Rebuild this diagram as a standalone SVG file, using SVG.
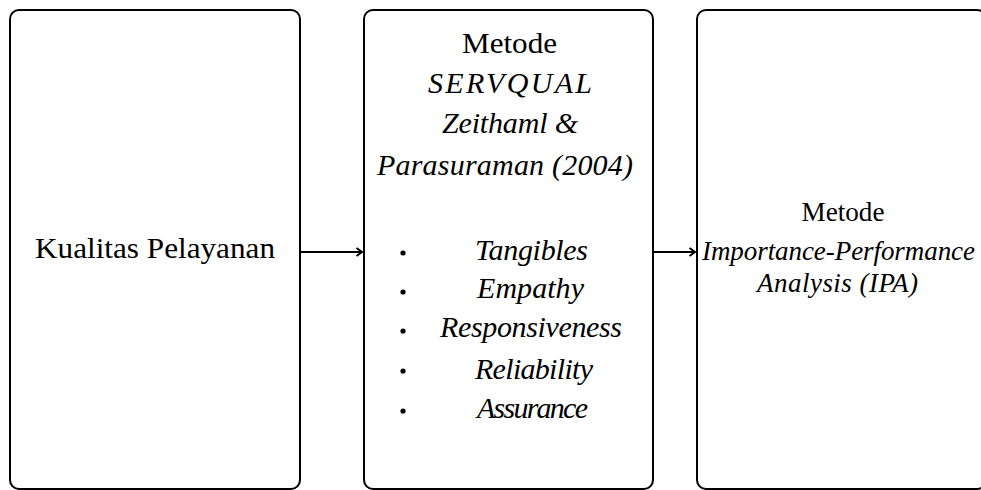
<svg xmlns="http://www.w3.org/2000/svg" width="981" height="490" viewBox="0 0 981 490">
  <style>
    .box { fill: #fff; stroke: #000; stroke-width: 2; }
    .t { font-family: "Liberation Serif", "Times New Roman", Times, serif; fill: #000; text-anchor: middle; }
    .s30 { font-size: 30px; }
    .s27 { font-size: 27px; }
    .it { font-style: italic; }
    .conn { stroke: #000; stroke-width: 2; fill: none; }
  </style>
  <defs>
    <marker id="arrow" markerWidth="12" markerHeight="12" refX="7" refY="5" orient="auto" markerUnits="userSpaceOnUse">
      <path d="M1.5,1 L7,5 L1.5,9" fill="none" stroke="#000" stroke-width="2" stroke-linejoin="miter"/>
    </marker>
  </defs>
  <rect width="981" height="490" fill="#fff"/>

  <g id="node-kualitas">
    <rect class="box" x="10" y="10" width="290" height="479" rx="9"/>
    <text class="t s30" x="155" y="258" textLength="240" lengthAdjust="spacingAndGlyphs">Kualitas Pelayanan</text>
  </g>

  <g id="node-servqual">
    <rect class="box" x="364" y="10" width="289" height="479" rx="9"/>
    <text class="t s30" x="509.5" y="53" textLength="95" lengthAdjust="spacingAndGlyphs">Metode</text>
    <text class="t s30 it" x="510" y="93" textLength="164" lengthAdjust="spacing">SERVQUAL</text>
    <text class="t s30 it" x="510" y="133" textLength="136" lengthAdjust="spacing">Zeithaml &amp;</text>
    <text class="t s30 it" x="505" y="175" textLength="256" lengthAdjust="spacing">Parasuraman (2004)</text>
    <circle cx="403" cy="253" r="2.6"/>
    <circle cx="403" cy="292" r="2.6"/>
    <circle cx="403" cy="331" r="2.6"/>
    <circle cx="403" cy="371" r="2.6"/>
    <circle cx="403" cy="411" r="2.6"/>
    <text class="t s30 it" x="531.5" y="260" textLength="113" lengthAdjust="spacing">Tangibles</text>
    <text class="t s30 it" x="530.5" y="298" textLength="107" lengthAdjust="spacing">Empathy</text>
    <text class="t s30 it" x="531" y="337" textLength="182" lengthAdjust="spacing">Responsiveness</text>
    <text class="t s30 it" x="534" y="379" textLength="118" lengthAdjust="spacing">Reliability</text>
    <text class="t s30 it" x="532.5" y="418" textLength="111" lengthAdjust="spacing">Assurance</text>
  </g>

  <g id="node-ipa">
    <rect class="box" x="697" y="10" width="289" height="479" rx="9"/>
    <text class="t s27" x="843" y="221" textLength="83" lengthAdjust="spacingAndGlyphs">Metode</text>
    <text class="t s27 it" x="838.5" y="260" textLength="273" lengthAdjust="spacing">Importance-Performance</text>
    <text class="t s27 it" x="837.5" y="292" textLength="161" lengthAdjust="spacing">Analysis (IPA)</text>
  </g>

  <g id="connectors">
    <line class="conn" x1="301" y1="252" x2="362" y2="252" marker-end="url(#arrow)"/>
    <line class="conn" x1="654" y1="252" x2="695" y2="252" marker-end="url(#arrow)"/>
  </g>
</svg>
